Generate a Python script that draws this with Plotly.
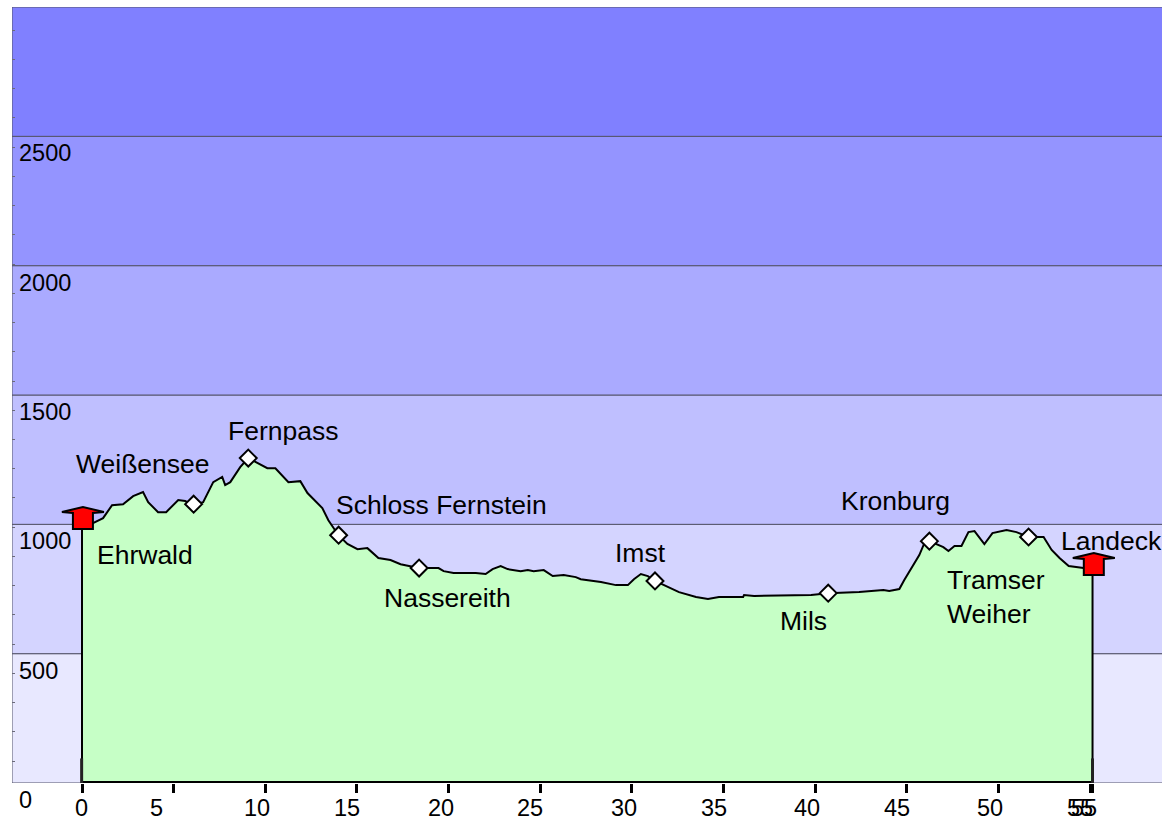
import plotly.graph_objects as go

profile_km = [0, 0.6, 1.15, 1.64, 2.24, 2.79, 3.33, 3.61, 4.15, 4.59, 5.25, 5.63, 6.07, 6.61, 7.16, 7.65, 7.81, 8.09, 8.63, 9.07,
              9.56, 10.11, 10.55, 11.26, 11.91, 12.30, 13.11, 13.44, 13.99, 14.48, 15.03, 15.57, 16.17, 16.83, 17.38, 18.36,
              19.45, 19.73, 20.27, 21.04, 21.48, 22.02, 22.40, 22.84, 23.22, 23.93, 24.32, 24.64, 25.19, 25.68, 26.28, 26.94,
              27.21, 28.31, 29.13, 29.78, 30.11, 30.49, 30.87, 31.26, 31.97, 32.57, 33.50, 34.15, 34.75, 36.07, 36.12, 36.67,
              39.78, 40.71, 42.40, 43.72, 44.04, 44.59, 44.86, 45.25, 45.68, 45.96, 46.23, 46.99, 47.27, 47.60, 47.98, 48.36,
              48.69, 49.23, 49.67, 50.44, 50.98, 51.64, 52.46, 52.90, 53.33, 53.83, 54.64, 55.13]
profile_ele = [982, 1005, 1024, 1074, 1078, 1109, 1125, 1086, 1047, 1047, 1094, 1090, 1074, 1086, 1163, 1183, 1152, 1163, 1221, 1256,
               1237, 1217, 1217, 1163, 1167, 1121, 1063, 1016, 958, 924, 904, 908, 870, 862, 846, 831,
               831, 819, 812, 812, 812, 808, 827, 839, 827, 819, 823, 819, 823, 800, 804, 796,
               788, 777, 765, 765, 788, 808, 800, 781, 758, 738, 719, 711, 719, 719, 727, 723,
               727, 734, 738, 746, 742, 750, 785, 831, 881, 928, 935, 912, 897, 916, 916, 970,
               974, 924, 966, 978, 970, 951, 951, 901, 870, 839, 831, 831]

band_floor = [0, 500, 1000, 1500, 2000, 2500]
band_top = [500, 1000, 1500, 2000, 2500, 3000]
band_color = ["#E8E8FF", "#D4D4FF", "#BFBFFF", "#AAAAFF", "#9494FF", "#8080FF"]

y_labels = [0, 500, 1000, 1500, 2000, 2500]
x_ticks = [0, 5, 10, 15, 20, 25, 30, 35, 40, 45, 50, 55, 55.13]
x_tick_text = ["0", "5", "10", "15", "20", "25", "30", "35", "40", "45", "50", "55", "55"]
x_tick_shift = [-0.5, -17, -8, -10, -8, -10, -8, -10, -8, -10, -9, -10.5, -9]

way_km = [6.09, 9.07, 14.0, 18.39, 31.26, 40.71, 46.23, 51.64]
way_ele = [1078, 1256, 958, 831, 781, 734, 935, 951]
end_km = [0.05, 55.2]
end_ele = [982, 804]

label_text = ["Ehrwald", "Weißensee", "Fernpass", "Schloss Fernstein", "Nassereith", "Imst", "Mils", "Kronburg", "Tramser<br>Weiher", "Landeck"]
label_km = [3.44, 3.33, 10.96, 19.59, 19.92, 30.49, 39.34, 44.37, 49.88, 56.15]
label_ele = [881, 1233, 1360, 1074, 715, 889, 626, 1090, 719, 935]

X0, X1 = -3.819, 58.92
FONT = "Liberation Sans"
fig = go.Figure()

for lo, hi, c in zip(band_floor, band_top, band_color):
    fig.add_trace(go.Scatter(x=[X0, X1 + 2, X1 + 2, X0, X0], y=[lo, lo, hi, hi, lo], mode="lines", fill="toself",
                             fillcolor=c, line=dict(color="#55556a", width=1), hoverinfo="skip", cliponaxis=False))

fig.add_trace(go.Scatter(x=[0] + profile_km + [55.13, 0], y=[0] + profile_ele + [0, 0], mode="lines", fill="toself",
                         fillcolor="#C6FFC6", line=dict(color="black", width=2), hoverinfo="skip", cliponaxis=False))
fig.add_trace(go.Scatter(x=[0, 55.13], y=[0, 0], mode="lines", line=dict(color="black", width=4),
                         hoverinfo="skip", cliponaxis=False))
for k in [-0.02, 55.13]:
    fig.add_trace(go.Scatter(x=[k, k], y=[0, 95], mode="lines", line=dict(color="#222222", width=3), hoverinfo="skip"))
fig.add_trace(go.Scatter(x=way_km, y=way_ele, mode="markers", hoverinfo="skip",
                         marker=dict(symbol="diamond", size=13, color="white", line=dict(color="black", width=2))))

house = "M -10 0 L 10 0 L 10 16 L 21 17 L 0 22 L -21 17 L -10 16 Z"
shapes = [dict(type="path", xref="x", yref="y", xsizemode="pixel", ysizemode="pixel", xanchor=k, yanchor=e, path=house,
               fillcolor="#FF0000", line=dict(color="black", width=2), layer="above")
          for k, e in zip(end_km, end_ele)]

ann = []
for t, k, e in zip(label_text, label_km, label_ele):
    ann.append(dict(x=k, y=e, text=t, showarrow=False, xanchor="center", yanchor="middle", align="left",
                    font=dict(family=FONT, size=26.5, color="black")))
for v in y_labels:
    ann.append(dict(x=X0, y=v, xshift=5, yshift=-17, text=str(v), showarrow=False, xanchor="left", yanchor="middle",
                    font=dict(family=FONT, size=23.5, color="black")))
for k, t, s in zip(x_ticks, x_tick_text, x_tick_shift):
    ann.append(dict(x=k, y=0, xshift=s, yshift=-25, text=t, showarrow=False, xanchor="center", yanchor="middle",
                    font=dict(family=FONT, size=23.5, color="black")))

fig.update_layout(
    width=1162, height=822, showlegend=False, paper_bgcolor="white", plot_bgcolor="white",
    margin=dict(l=12, r=0, t=7, b=39), shapes=shapes, annotations=ann,
    xaxis=dict(range=[X0, X1], showgrid=False, zeroline=False, showline=False, showticklabels=False,
               tickmode="array", tickvals=x_ticks, ticks="outside", ticklen=9, tickwidth=3, tickcolor="black"),
    yaxis=dict(range=[0, 3000], showgrid=False, zeroline=False, showline=False, showticklabels=False,
               tick0=85, dtick=113, ticks="inside", ticklen=3, tickwidth=1, tickcolor="#6a6a7a"),
)
fig.write_html("out.html", config={"displayModeBar": False}, post_script="document.body.style.margin='0';")
